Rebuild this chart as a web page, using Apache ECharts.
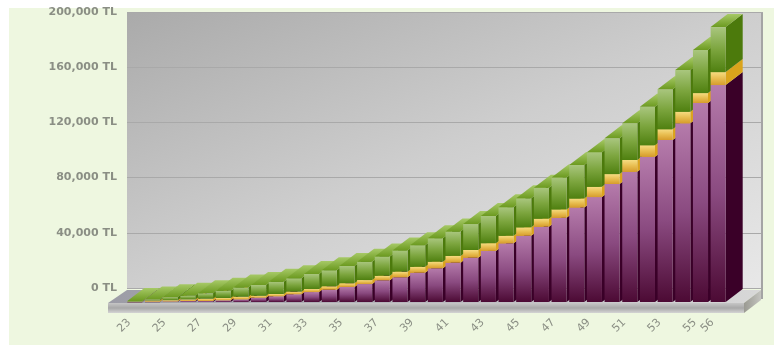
<!DOCTYPE html>
<html>
<head>
<meta charset="utf-8">
<style>
  html, body { margin: 0; padding: 0; background: #ffffff; width: 774px; height: 345px; overflow: hidden; }
  #panel { position: absolute; left: 9px; top: 8px; right: 0; bottom: 0; background: #eef7e0; }
  #chart { position: absolute; left: 0; top: 0; width: 774px; height: 345px; }
</style>
<script src="https://cdn.jsdelivr.net/npm/echarts@6/dist/echarts.min.js"></script>
</head>
<body>
<div id="panel"></div>
<div id="chart"></div>
<script>
// Age categories along the floor of the chart
const ages = [23,24,25,26,27,28,29,30,31,32,33,34,35,36,37,38,39,40,41,42,43,44,45,46,47,48,49,50,51,52,53,54,55,56];

// Stacked amounts in TL, bottom to top
const lowerValues = [100,200,400,700,700,1200,1900,3100,4100,5600,7200,8900,10900,13000,15700,17900,21200,24400,28500,32100,37000,42500,48000,54600,61000,68500,76000,85500,94400,105300,117400,129500,144200,157200];
const middleValues = [200,900,900,1200,1700,1700,1900,1400,1700,1900,2200,2500,2700,2900,3300,4100,4300,4800,4900,5600,5600,5500,6100,5800,6100,6500,7500,7200,8500,8300,7800,8400,7200,9400];
const upperValues = [400,800,2200,2600,3900,5300,6700,7800,8900,9700,10900,11600,12500,13300,14000,15400,15700,17000,17600,18800,19800,20700,21000,22400,23200,24300,25100,25900,26600,27800,29000,30200,31200,32600];

// Value axis
const valueMin = 0;
const valueMax = 200000;
const valueStep = 40000;

// Oblique projection used for every box: right and up
const DEPTH_X = 17;
const DEPTH_Y = 13;

const vGrad = (stops) => new echarts.graphic.LinearGradient(0, 0, 0, 1,
  stops.map((c, i) => ({ offset: i / (stops.length - 1), color: c })));

const palette = [
  { front: ['#b57bab', '#8a4a80', '#4c0a34'], side: '#3a0028' },
  { front: ['#f6dc82', '#e8bd50', '#d69c2c'], side: '#dba41c' },
  { front: ['#a9c67e', '#7ca53e', '#4f8010'], side: '#4c7a0c' }
];

// One 3D stacked column per age, painted left to right so nearer columns overlap
function renderColumn(params, api) {
  const idx = api.value(0);
  const width = api.size([1, 0])[0] - 2.6;
  const left = api.coord([idx, 0])[0] - width / 2;
  let total = 0;
  const children = [];
  [1, 2, 3].forEach((dim, layer) => {
    const amount = api.value(dim);
    const yBase = api.coord([idx, total])[1];
    total += amount;
    const yTop = api.coord([idx, total])[1];
    const look = palette[layer];
    const right = left + width;
    children.push({
      type: 'polygon',
      shape: { points: [[right, yBase], [right + DEPTH_X, yBase - DEPTH_Y], [right + DEPTH_X, yTop - DEPTH_Y], [right, yTop]] },
      style: { fill: look.side }
    });
    children.push({
      type: 'rect',
      shape: { x: left, y: yTop, width: width, height: Math.max(yBase - yTop, 0.5) },
      style: { fill: vGrad(look.front) }
    });
    if (layer === 2) {
      children.push({
        type: 'polygon',
        shape: { points: [[left, yTop], [right, yTop], [right + DEPTH_X, yTop - DEPTH_Y], [left + DEPTH_X, yTop - DEPTH_Y]] },
        style: { fill: new echarts.graphic.LinearGradient(0, 1, 0, 0, [
          { offset: 0, color: '#6c9a20' }, { offset: 1, color: '#a6c966' }
        ]) }
      });
    }
  });
  return { type: 'group', children };
}

// Floor slab and the upright right-hand edge of the back wall, sized from the plot rectangle
function renderFloor(params, api) {
  const r = params.coordSys;
  const x0 = r.x - 18, x1 = r.x + r.width + 17;
  const y0 = r.y + r.height + 1, y1 = y0 + 10;
  return {
    type: 'group',
    children: [
      {
        type: 'polygon',
        shape: { points: [[x0, y0], [x1, y0], [x1 + DEPTH_X, y0 - DEPTH_Y], [x0 + 19, y0 - DEPTH_Y]] },
        style: { fill: new echarts.graphic.LinearGradient(0, 0, 1, 0, [
          { offset: 0, color: '#9c9ca6' }, { offset: 1, color: '#d8d8d8' }
        ]) }
      },
      {
        type: 'rect',
        shape: { x: x0, y: y0, width: x1 - x0, height: y1 - y0 },
        style: { fill: vGrad(['#c6c6c6', '#a8a8a8', '#d4d4d4']) }
      },
      {
        type: 'polygon',
        shape: { points: [[x1, y0], [x1 + DEPTH_X, y0 - DEPTH_Y], [x1 + DEPTH_X, y1 - DEPTH_Y], [x1, y1]] },
        style: { fill: new echarts.graphic.LinearGradient(0, 0, 1, 0, [
          { offset: 0, color: '#9a9a92' }, { offset: 1, color: '#c4c4c0' }
        ]) }
      },
      {
        type: 'rect',
        shape: { x: x1 + DEPTH_X, y: r.y - DEPTH_Y, width: 2, height: r.height + 10 },
        style: { fill: '#a4a4a4' }
      }
    ]
  };
}

const columnData = ages.map((a, i) => [i, lowerValues[i], middleValues[i], upperValues[i]]);
const labelFont = { color: '#8a8e84', fontFamily: 'DejaVu Sans' };

const chart = echarts.init(document.getElementById('chart'), null, { renderer: 'canvas' });
chart.setOption({
  animation: false,
  grid: [
    {
      left: 127, right: 11, top: 12, bottom: 57, show: true, borderWidth: 0,
      backgroundColor: new echarts.graphic.LinearGradient(0, 0, 0.316, 1.68, [
        { offset: 0, color: '#aaaaaa' },
        { offset: 0.5, color: '#cecece' },
        { offset: 1, color: '#e8e8e8' }
      ])
    },
    { left: 126, right: 47, top: 26, bottom: 43 }
  ],
  xAxis: [
    { gridIndex: 0, type: 'value', show: false, min: 0, max: 1 },
    {
      gridIndex: 1, type: 'category', data: ages.map(String),
      axisLine: { show: false }, axisTick: { show: false },
      axisLabel: Object.assign({}, labelFont, {
        rotate: 45, margin: 13, fontSize: 11, padding: [0, 8, 0, 0],
        interval: (i) => i % 2 === 0 || i === ages.length - 1
      })
    }
  ],
  yAxis: [
    {
      gridIndex: 0, type: 'value', min: valueMin, max: valueMax, interval: valueStep,
      axisLine: { show: false }, axisTick: { show: false },
      axisLabel: Object.assign({}, labelFont, {
        margin: 10, fontSize: 11, fontWeight: 'bold',
        formatter: (v) => v.toLocaleString('en-US') + ' TL'
      }),
      splitLine: { show: true, lineStyle: { color: '#a9a9a9', width: 1 } }
    },
    { gridIndex: 1, type: 'value', min: valueMin, max: valueMax, interval: valueStep, show: false }
  ],
  series: [
    {
      type: 'custom', xAxisIndex: 1, yAxisIndex: 1, silent: true, clip: false, z: 2,
      data: [0], renderItem: renderFloor
    },
    {
      type: 'custom', xAxisIndex: 1, yAxisIndex: 1, silent: true, clip: false, z: 3,
      encode: { x: 0, y: [1, 2, 3] },
      data: columnData, renderItem: renderColumn
    }
  ]
});
</script>
</body>
</html>
